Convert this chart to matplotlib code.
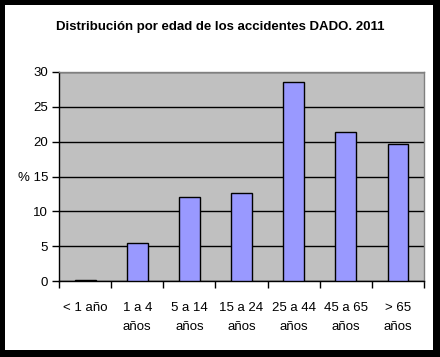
import matplotlib
matplotlib.use("Agg")
import matplotlib.pyplot as plt
from matplotlib.patches import Rectangle

categories = ["< 1 año", "1 a 4\naños", "5 a 14\naños", "15 a 24\naños",
              "25 a 44\naños", "45 a 65\naños", "> 65\naños"]
values = [0.2, 5.4, 12.1, 12.6, 28.5, 21.4, 19.7]
yticks = [0, 5, 10, 15, 20, 25, 30]
ytick_labels = ["0", "5", "10", "% 15", "20", "25", "30"]
title = "Distribución por edad de los accidentes DADO. 2011"

plt.rcParams['font.family'] = ['Liberation Sans', 'DejaVu Sans']

fig = plt.figure(figsize=(4.4, 3.57), dpi=100, facecolor='black')
# white inner panel
fig.patches.append(Rectangle((5/440, 1 - 350/357), 428/440, 345/357,
                             transform=fig.transFigure, facecolor='white',
                             edgecolor='none', zorder=-10))

ax = fig.add_axes([59/440, 1 - 281/357, (424 - 59)/440, (281 - 72)/357])
ax.set_zorder(1)
ax.set_facecolor('#C0C0C0')
x = list(range(len(categories)))
ax.bar(x, values, width=0.4, color='#9999FF', edgecolor='black', linewidth=1, zorder=3)
ax.set_xlim(-0.5, len(categories) - 0.5)
ax.set_ylim(0, 30)
ax.set_yticks(yticks)
ax.set_yticklabels(ytick_labels, fontsize=9.5)
ax.yaxis.grid(True, color='black', linewidth=1, zorder=1)
ax.set_axisbelow(True)
ax.set_xticks(x)
ax.set_xticklabels(categories, fontsize=9.5, linespacing=1.75, va='top')
ax.tick_params(axis='x', length=0, pad=15)
ax.set_xticks([i + 0.5 for i in range(-1, len(categories))], minor=True)
ax.tick_params(axis='x', which='minor', length=5, direction='out', width=1)
ax.tick_params(axis='y', length=5, direction='out', width=1, pad=3)
for s in ['top', 'right']:
    ax.spines[s].set_color('#808080')
    ax.spines[s].set_linewidth(1)
for s in ['left', 'bottom']:
    ax.spines[s].set_color('black')
    ax.spines[s].set_linewidth(1)

fig.text(0.5, 1 - 27/357, title, ha='center', va='center', fontsize=9.5,
         fontweight='bold')

fig.savefig('out.png', dpi=100, facecolor='black')
